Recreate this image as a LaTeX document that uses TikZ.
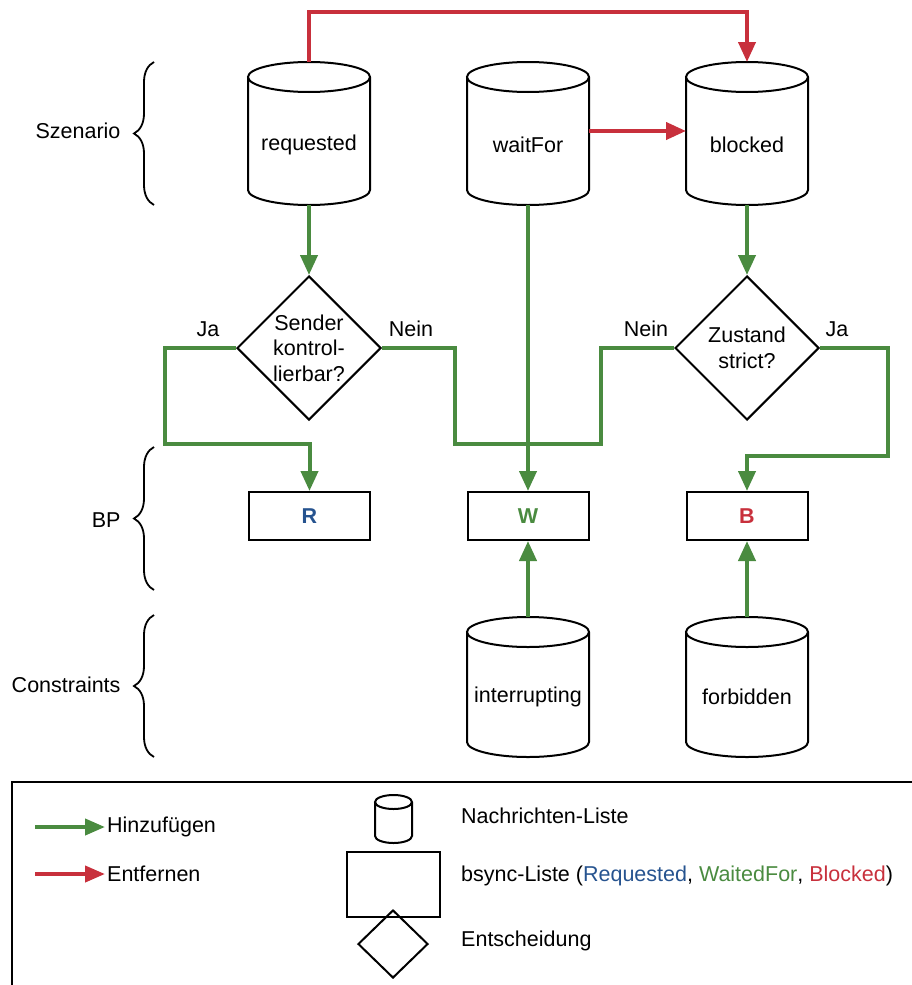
\documentclass[tikz,border=0pt]{standalone}
\usepackage{fontspec}
\setmainfont{Liberation Sans}
\usetikzlibrary{shapes.geometric,arrows.meta,decorations.pathreplacing}
\definecolor{addgreen}{RGB}{74,139,64}
\definecolor{remred}{RGB}{200,48,60}
\definecolor{reqblue}{RGB}{38,83,143}

% cylinder outline around a (borderless) rectangular node: name, x radius, y radius
\newcommand\cylout[3]{%
  \draw[outline] ([yshift=-#3pt]#1.north west) -- ([yshift=#3pt]#1.south west)
    arc[start angle=180, end angle=360, x radius=#2pt, y radius=#3pt]
    -- ([yshift=-#3pt]#1.north east)
    arc[start angle=0, end angle=360, x radius=#2pt, y radius=#3pt];}

\begin{document}
\begin{tikzpicture}[x=1pt, y=-1pt, font=\fontsize{21.5}{25.5}\selectfont,
  body/.style={draw=none, minimum width=122pt, minimum height=143pt, inner sep=0pt, outer sep=0pt},
  outline/.style={draw=black, line width=2pt},
  bsync/.style={draw=black, line width=2pt, minimum width=121pt, minimum height=48pt,
    inner sep=0pt, font=\fontsize{21.5}{24}\selectfont\bfseries},
  decision/.style={diamond, aspect=1, draw=black, line width=2pt, minimum width=144pt,
    minimum height=144pt, inner sep=-12pt, align=center},
  addline/.style={draw=addgreen, line width=4pt},
  addarrow/.style={addline, -{Triangle[length=20pt,width=17pt]}},
  remarrow/.style={draw=remred, line width=4pt, -{Triangle[length=20pt,width=17pt]}},
  curly/.style={draw=black, line width=1.8pt, decorate, decoration={brace, amplitude=20pt}},
  layer/.style={anchor=east},
  legtext/.style={anchor=west, inner sep=2pt},
]
\useasboundingbox (0,0) rectangle (912,985);

% --- layer labels with braces
\node[layer] (lszen) at (124,131) {Szenario};
\node[layer] (lbp) at (124,520) {BP};
\node[layer] (lcons) at (124,685) {Constraints};
\draw[curly] (154,205) -- (154,62);
\draw[curly] (154,590) -- (154,447);
\draw[curly] (154,757) -- (154,615);

% --- scenario lists
\node[body] (req) at (309,133.5) {};
\node[body] (wf)  at (528,133.5) {};
\node[body] (blk) at (747,133.5) {};
\cylout{req}{61}{15}
\cylout{wf}{61}{15}
\cylout{blk}{61}{15}
\node (reqt) at (309,145) {requested};
\node (wft)  at (528,145) {waitFor};
\node (blkt) at (747,145) {blocked};

% --- decisions
\node[decision] (d1) at (309,348) {Sender\\kontrol-\\lierbar?};
\node[decision] (d2) at (747,348) {Zustand\\strict?};
\node (ja1)   at (208,329) {Ja};
\node (nein1) at (411,329) {Nein};
\node (nein2) at (646,329) {Nein};
\node (ja2)   at (837,329) {Ja};

% --- bsync lists
\node[bsync, text=reqblue]   (R) at (309.5,516) {R};
\node[bsync, text=addgreen]  (W) at (528,516) {W};
\node[bsync, text=remred]    (B) at (747,516) {B};

% --- constraint lists
\node[body, minimum height=140pt] (intr) at (528,687) {};
\node[body, minimum height=140pt] (forb) at (747,687) {};
\cylout{intr}{61}{15}
\cylout{forb}{61}{15}
\node (intrt) at (528,697) {interrupting};
\node (forbt) at (747,697) {forbidden};

% --- routing points
\coordinate (topline) at (0,12);
\coordinate (jaL) at (165,444);
\coordinate (neinL) at (455,444);
\coordinate (neinR) at (601,444);
\coordinate (jaR) at (888,456);

% --- removing
\draw[remarrow] (req.north) |- (blk.north |- topline) -- (blk.north);
\draw[remarrow] (wf.east |- 0,131) -- (blk.west |- 0,131);

% --- adding
\draw[addarrow] (req.south) -- (d1.north);
\draw[addarrow] (blk.south) -- (d2.north);
\draw[addarrow] (wf.south) -- (W.north);
\draw[addarrow] (d1.west) -| (jaL) -| (R.north);
\draw[addline] (d1.east) -| (neinL) -- (neinL -| W.north);
\draw[addline] (d2.west) -| (neinR) -- (neinR -| W.north);
\draw[addarrow] (d2.east) -| (jaR) -| (B.north);
\draw[addarrow] (intr.north) -- (W.south);
\draw[addarrow] (forb.north) -- (B.south);

% --- legend
\draw[outline] (912,782) -- (12,782) -- (12,985);
\node[legtext] (hinz) at (105,827) {Hinzufügen};
\node[legtext] (entf) at (105,874) {Entfernen};
\coordinate (ga) at (35,827);
\coordinate (ra) at (35,874);
\draw[addline, -{Triangle[length=20pt,width=16pt]}] (ga) -- (hinz.west);
\draw[draw=remred, line width=4pt, -{Triangle[length=20pt,width=16pt]}] (ra) -- (entf.west);

\node[body, minimum width=37pt, minimum height=48pt] (lcyl) at (393.5,819) {};
\cylout{lcyl}{18.5}{7}
\node[draw=black, line width=2pt, minimum width=93pt, minimum height=65pt, inner sep=0pt] (lrect) at (393.5,884.5) {};
\node[diamond, aspect=1, draw=black, line width=2pt, minimum width=70pt, minimum height=68pt, inner sep=0pt] (ldia) at (393,944) {};
\node[legtext] (lcylt) at (459,816) {Nachrichten-Liste};
\node[legtext] (lrectt) at (459,876) {bsync-Liste (\textcolor{reqblue}{Requested}, \textcolor{addgreen}{WaitedFor}, \textcolor{remred}{Blocked})};
\node[legtext] (ldiat) at (459,941) {Entscheidung};
\end{tikzpicture}
\end{document}
